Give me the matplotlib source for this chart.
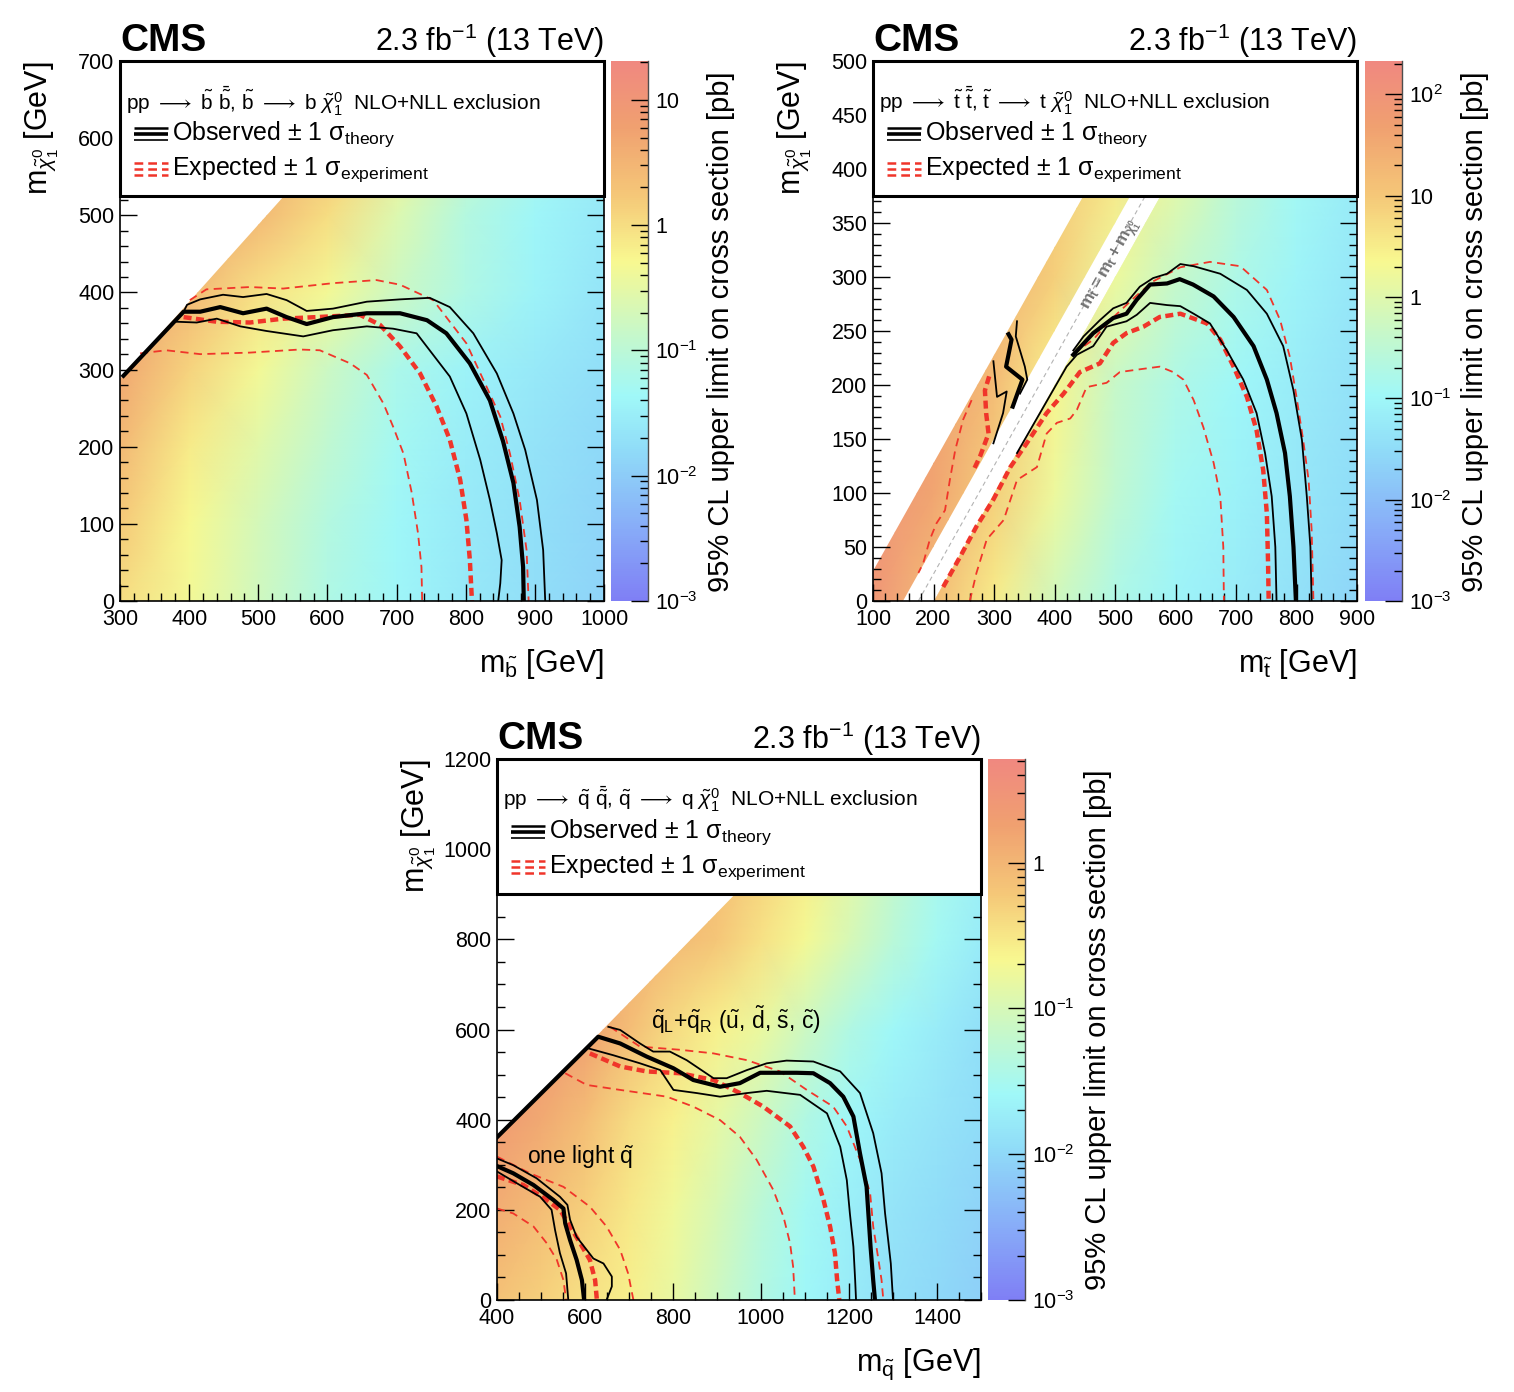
import numpy as np
import matplotlib
matplotlib.use("Agg")
import matplotlib.pyplot as plt
from matplotlib.colors import LinearSegmentedColormap, Normalize, LogNorm
from matplotlib.cm import ScalarMappable
from matplotlib.patches import Polygon, Rectangle
from matplotlib.ticker import MultipleLocator, LogLocator, FuncFormatter, NullFormatter

plt.rcParams["font.family"] = ["Liberation Sans", "DejaVu Sans"]
plt.rcParams["mathtext.fontset"] = "custom"
plt.rcParams["mathtext.rm"] = "Liberation Sans"
plt.rcParams["mathtext.sf"] = "Liberation Sans"
plt.rcParams["mathtext.it"] = "Liberation Sans:italic"
plt.rcParams["mathtext.bf"] = "Liberation Sans:bold"
plt.rcParams["mathtext.fallback"] = "stixsans"

RED = "#f0352a"
PALETTE = LinearSegmentedColormap.from_list("pale_rainbow", [
    (0.00, "#7f7ff5"), (0.14, "#88aef8"), (0.28, "#90dcf8"), (0.38, "#a0f8f8"),
    (0.50, "#c8f8c8"), (0.63, "#f8f890"), (0.75, "#f5c878"), (0.88, "#f0a070"),
    (1.00, "#f08880")])

# ---------------- sbottom: log10(limit / pb) on a coarse grid ----------------
SB_GRID_X = [300, 400, 500, 600, 700, 800, 900, 1000]
SB_GRID_Y = [0, 100, 200, 300, 400, 500, 600, 700]
SB_LOGLIM = [
    [0.00, -0.35, -0.75, -1.15, -1.40, -1.60, -1.75, -1.90],
    [0.20, -0.30, -0.70, -1.10, -1.38, -1.58, -1.73, -1.88],
    [0.45, -0.15, -0.55, -0.95, -1.30, -1.52, -1.68, -1.83],
    [0.70, 0.10, -0.35, -0.80, -1.20, -1.45, -1.60, -1.75],
    [0.80, 0.45, -0.05, -0.35, -0.80, -1.15, -1.45, -1.65],
    [0.90, 0.70, 0.45, 0.00, -0.60, -1.10, -1.40, -1.60],
    [1.00, 0.80, 0.60, 0.40, -0.20, -0.80, -1.20, -1.50],
    [1.10, 0.90, 0.70, 0.50, 0.30, -0.50, -1.00, -1.40],
]
SB_OBS_X = [305, 392, 416, 445, 478, 512, 541, 570, 608, 657, 705, 744, 772, 806, 835, 854, 869, 878, 883, 884]
SB_OBS_Y = [292, 375, 375, 381, 373, 379, 368, 359, 368, 373, 373, 364, 347, 308, 260, 207, 153, 96, 44, 0]
SB_OBS_UP_X = [392, 397, 416, 449, 478, 512, 541, 570, 608, 657, 705, 748, 777, 811, 845, 869, 886, 903, 912, 915]
SB_OBS_UP_Y = [375, 384, 391, 397, 394, 398, 390, 376, 379, 388, 391, 393, 381, 347, 295, 243, 196, 131, 66, 0]
SB_OBS_DN_X = [382, 411, 440, 474, 512, 565, 608, 657, 695, 729, 777, 801, 821, 835, 845, 852, 850, 847]
SB_OBS_DN_Y = [362, 361, 366, 356, 350, 343, 351, 356, 353, 347, 291, 243, 183, 131, 88, 53, 23, 0]
SB_EXP_X = [392, 440, 488, 536, 584, 647, 676, 705, 734, 758, 777, 792, 801, 806, 809]
SB_EXP_Y = [368, 362, 361, 366, 368, 371, 358, 330, 295, 252, 209, 157, 105, 53, 0]
SB_EXP_UP_X = [401, 425, 488, 536, 608, 671, 705, 753, 801, 830, 850, 864, 878, 888, 891]
SB_EXP_UP_Y = [390, 404, 407, 405, 412, 416, 410, 390, 334, 278, 239, 191, 131, 66, 0]
SB_EXP_DN_X = [329, 367, 416, 488, 560, 589, 633, 657, 681, 695, 710, 722, 731, 736, 737]
SB_EXP_DN_Y = [321, 325, 320, 322, 326, 325, 308, 293, 256, 226, 191, 140, 88, 44, 0]

# ---------------- stop ----------------
ST_GRID_X = [100, 200, 300, 400, 500, 600, 700, 800, 900]
ST_GRID_Y = [0, 100, 200, 300, 400, 500]
ST_LOGLIM = [
    [1.9, 1.2, 0.5, -0.2, -0.75, -1.05, -1.2, -1.4, -1.6],
    [2.0, 1.6, 0.9, 0.2, -0.45, -0.9, -1.1, -1.3, -1.5],
    [2.1, 1.7, 1.2, 0.4, -0.35, -0.75, -1.0, -1.2, -1.4],
    [2.2, 1.8, 1.4, 0.9, 0.2, -0.35, -0.75, -1.05, -1.3],
    [2.3, 1.9, 1.5, 1.0, 0.6, 0.1, -0.5, -0.9, -1.2],
    [2.3, 2.0, 1.6, 1.1, 0.8, 0.4, -0.2, -0.7, -1.1],
]
ST_OBS_X = [431, 464, 497, 519, 536, 558, 586, 607, 629, 663, 696, 729, 751, 767, 781, 789, 795, 799]
ST_OBS_Y = [228, 248, 262, 266, 279, 293, 294, 298, 293, 282, 263, 236, 205, 174, 137, 97, 50, 0]
ST_OBS_UP_X = [431, 448, 475, 497, 519, 541, 563, 586, 608, 630, 674, 718, 751, 778, 795, 809, 817, 823, 825]
ST_OBS_UP_Y = [232, 245, 260, 271, 276, 291, 299, 303, 312, 310, 303, 288, 266, 236, 195, 149, 97, 50, 0]
ST_OBS_DN_X = [338, 420, 437, 464, 486, 519, 536, 558, 586, 608, 630, 657, 685, 712, 734, 748, 759, 765, 767]
ST_OBS_DN_Y = [137, 217, 228, 236, 254, 259, 265, 276, 274, 273, 266, 257, 232, 205, 174, 137, 97, 50, 0]
ST_EXP_X = [216, 244, 271, 299, 327, 354, 387, 415, 442, 475, 497, 519, 547, 574, 608, 652, 674, 696, 718, 734, 745, 751, 753, 754]
ST_EXP_Y = [13, 41, 69, 94, 124, 146, 174, 192, 212, 220, 239, 248, 254, 263, 266, 257, 242, 217, 189, 158, 121, 81, 35, 0]
ST_EXP_UP_X = [431, 464, 492, 536, 563, 608, 657, 707, 751, 773, 789, 800, 811, 820, 825, 828]
ST_EXP_UP_Y = [229, 242, 260, 283, 296, 309, 314, 310, 288, 260, 226, 189, 149, 112, 66, 0]
ST_EXP_DN_X = [260, 271, 288, 316, 338, 371, 387, 404, 426, 437, 453, 486, 508, 547, 574, 596, 613, 630, 646, 663, 674, 679, 680]
ST_EXP_DN_Y = [0, 26, 57, 75, 112, 124, 155, 165, 169, 177, 198, 202, 212, 215, 217, 212, 205, 186, 161, 128, 97, 50, 0]
# compressed-spectrum band (left of the top-mass line)
STL_OBS_X = [324, 329, 320, 347, 331]
STL_OBS_Y = [247, 242, 217, 205, 180]
STL_OBS_UP_X = [338, 336, 351, 355, 343]
STL_OBS_UP_Y = [259, 245, 217, 205, 192]
STL_OBS_DN_X = [299, 305, 321, 315, 299]
STL_OBS_DN_Y = [222, 189, 194, 174, 146]
STL_EXP_X = [292, 285, 287, 291, 277, 266]
STL_EXP_Y = [208, 195, 174, 155, 134, 121]
STL_EXP_DN_X = [263, 249, 236, 227, 219, 205, 194, 183, 175]
STL_EXP_DN_Y = [186, 168, 140, 112, 84, 72, 57, 35, 26]

# ---------------- squark ----------------
SQ_GRID_X = [400, 500, 600, 700, 800, 900, 1000, 1100, 1200, 1300, 1400, 1500]
SQ_GRID_Y = [0, 200, 400, 600, 800, 1000, 1200]
SQ_LOGLIM = [
    [-0.15, -0.30, -0.45, -0.58, -0.82, -1.10, -1.38, -1.60, -1.75, -1.90, -2.00, -2.10],
    [0.10, -0.10, -0.30, -0.52, -0.75, -1.00, -1.30, -1.55, -1.70, -1.85, -1.95, -2.05],
    [0.35, 0.15, -0.10, -0.40, -0.60, -0.85, -1.10, -1.40, -1.60, -1.75, -1.85, -1.95],
    [0.40, 0.35, 0.25, -0.10, -0.40, -0.60, -0.80, -1.10, -1.40, -1.60, -1.75, -1.90],
    [0.45, 0.40, 0.30, 0.10, -0.05, -0.20, -0.45, -0.70, -1.00, -1.30, -1.55, -1.75],
    [0.50, 0.45, 0.40, 0.30, 0.10, -0.10, -0.30, -0.55, -0.85, -1.15, -1.45, -1.65],
    [0.50, 0.45, 0.40, 0.35, 0.20, 0.00, -0.20, -0.45, -0.75, -1.05, -1.35, -1.60],
]
SQ_OBS_X = [398, 630, 680, 740, 801, 846, 907, 952, 998, 1081, 1119, 1157, 1187, 1210, 1225, 1240, 1244, 1249, 1255, 1259]
SQ_OBS_Y = [359, 584, 569, 540, 514, 488, 473, 481, 504, 504, 503, 481, 451, 407, 325, 251, 192, 118, 44, 0]
SQ_OBS_UP_X = [653, 680, 725, 755, 793, 831, 892, 922, 968, 1013, 1058, 1119, 1180, 1225, 1255, 1274, 1282, 1289, 1295, 1300]
SQ_OBS_UP_Y = [606, 599, 569, 551, 551, 532, 492, 492, 510, 525, 531, 529, 507, 459, 370, 281, 192, 133, 81, 0]
SQ_OBS_DN_X = [608, 664, 725, 771, 801, 854, 907, 968, 1013, 1089, 1150, 1180, 1195, 1202, 1210, 1214, 1216]
SQ_OBS_DN_Y = [558, 543, 525, 510, 466, 459, 451, 459, 464, 455, 414, 340, 266, 192, 118, 44, 0]
SQ_EXP_X = [611, 680, 740, 816, 892, 952, 1005, 1066, 1096, 1119, 1142, 1157, 1168, 1173, 1178]
SQ_EXP_Y = [547, 518, 507, 503, 488, 459, 429, 385, 340, 296, 222, 163, 104, 44, 0]
SQ_EXP_UP_X = [657, 725, 816, 892, 968, 1043, 1104, 1164, 1195, 1225, 1248, 1255, 1267, 1274, 1278]
SQ_EXP_UP_Y = [606, 562, 555, 547, 532, 507, 466, 429, 385, 311, 237, 163, 89, 44, 0]
SQ_EXP_DN_X = [555, 604, 680, 786, 846, 907, 952, 990, 1028, 1051, 1066, 1073, 1077]
SQ_EXP_DN_Y = [503, 477, 466, 451, 429, 399, 362, 311, 244, 185, 126, 74, 0]
# one light squark
SQ1_OBS_X = [400, 437, 483, 528, 551, 555, 566, 581, 593, 598]
SQ1_OBS_Y = [297, 281, 255, 222, 203, 170, 133, 89, 44, 0]
SQ1_OBS_UP_X = [400, 437, 490, 543, 560, 566, 581, 604, 619, 642, 661, 661, 649]
SQ1_OBS_UP_Y = [314, 299, 270, 229, 211, 178, 140, 111, 92, 81, 52, 30, 0]
SQ1_OBS_DN_X = [400, 452, 498, 524, 532, 543, 557, 562]
SQ1_OBS_DN_Y = [285, 255, 229, 200, 155, 104, 59, 0]
SQ1_EXP_X = [400, 460, 513, 543, 566, 589, 611, 623, 627]
SQ1_EXP_Y = [274, 255, 222, 200, 163, 126, 89, 44, 0]
SQ1_EXP_UP_X = [400, 475, 551, 611, 649, 680, 698, 710]
SQ1_EXP_UP_Y = [318, 281, 251, 207, 163, 111, 59, 0]
SQ1_EXP_DN_X = [400, 437, 483, 513, 536, 551, 557]
SQ1_EXP_DN_Y = [203, 192, 163, 126, 89, 44, 0]

LEGEND_OBS = r"Observed ± 1 σ$_{\mathrm{theory}}$"
LEGEND_EXP = r"Expected ± 1 σ$_{\mathrm{experiment}}$"
ZLABEL = "95% CL upper limit on cross section [pb]"
YLABEL = r"$\mathrm{m}_{\tilde{\chi}^{0}_{1}}$ [GeV]"


def frame(ax, xlim, ylim, xmaj, xmin, ymaj, ymin):
    ax.set_xlim(xlim)
    ax.set_ylim(ylim)
    ax.xaxis.set_major_locator(MultipleLocator(xmaj))
    ax.xaxis.set_minor_locator(MultipleLocator(xmin))
    ax.yaxis.set_major_locator(MultipleLocator(ymaj))
    ax.yaxis.set_minor_locator(MultipleLocator(ymin))
    ax.tick_params(which="both", direction="in", top=True, right=True, labelsize=15.5, width=1)
    ax.tick_params(which="major", length=12)
    ax.tick_params(which="minor", length=6)
    ax.tick_params(axis="x", pad=6)
    ax.tick_params(axis="y", pad=4)
    for s in ax.spines.values():
        s.set_linewidth(1.2)
        s.set_zorder(7)


def limit_map(ax, gx, gy, loglim, vmax_log, regions):
    X, Y = np.meshgrid(gx, gy)
    for verts in regions:
        mesh = ax.pcolormesh(X, Y, np.array(loglim), shading="gouraud", cmap=PALETTE,
                             norm=Normalize(-3, vmax_log), zorder=0, rasterized=True)
        mesh.set_clip_path(Polygon(verts, closed=True, transform=ax.transData))


def curves(ax, obs, obs_up, obs_dn, exp, exp_up, exp_dn):
    for xy in (exp_up, exp_dn):
        if xy is not None:
            ax.plot(*xy, color=RED, lw=1.3, ls=(0, (4.5, 3)), zorder=3)
    if exp is not None:
        ax.plot(*exp, color=RED, lw=3.2, ls=(0, (1.8, 1.0)), zorder=3)
    for xy in (obs_up, obs_dn):
        if xy is not None:
            ax.plot(*xy, color="black", lw=1.3, zorder=4)
    if obs is not None:
        ax.plot(*obs, color="black", lw=3.0, zorder=4)


def legend_box(ax, title):
    ax.add_patch(Rectangle((0, 0.75), 1, 0.25, transform=ax.transAxes, fc="white",
                           ec="black", lw=2.2, zorder=5, clip_on=False))
    ax.text(0.012, 0.926, title, transform=ax.transAxes, fontsize=15, va="center", zorder=6)
    for dy, lw in [(0.011, 1.8), (0.0, 2.6), (-0.011, 1.2)]:
        ax.plot([0.029, 0.099], [0.865 + dy] * 2, transform=ax.transAxes, color="black",
                lw=lw, zorder=6, clip_on=False, solid_capstyle="butt")
    for dy in (0.011, 0.0, -0.011):
        ax.plot([0.029, 0.099], [0.800 + dy] * 2, transform=ax.transAxes, color=RED,
                lw=1.8, ls=(0, (3.5, 2.0)), zorder=6, clip_on=False)
    ax.text(0.107, 0.865, LEGEND_OBS, transform=ax.transAxes, fontsize=18, va="center", zorder=6)
    ax.text(0.107, 0.800, LEGEND_EXP, transform=ax.transAxes, fontsize=18, va="center", zorder=6)


def labels(ax, xlabel):
    ax.text(0, 1.018, "CMS", transform=ax.transAxes, fontsize=28, fontweight="bold",
            ha="left", va="baseline")
    ax.text(1, 1.018, r"2.3 fb$^{-1}$ (13 TeV)", transform=ax.transAxes, fontsize=22,
            ha="right", va="baseline")
    ax.text(1, -0.131, xlabel, transform=ax.transAxes, fontsize=22, ha="right", va="baseline")
    ax.text(-0.149, 1, YLABEL, transform=ax.transAxes, fontsize=22, rotation=90,
            rotation_mode="anchor", ha="right", va="baseline")


def zfmt(v, pos):
    e = int(round(np.log10(v)))
    if e == 0:
        return "1"
    if e == 1:
        return "10"
    return r"$10^{%d}$" % e


def zbar(fig, cax, vmax_log):
    sm = ScalarMappable(norm=LogNorm(1e-3, 10 ** vmax_log), cmap=PALETTE)
    cb = fig.colorbar(sm, cax=cax)
    cb.outline.set_visible(False)
    cax.axvline(1.0, color="0.3", lw=1.0, clip_on=False)
    cax.yaxis.set_major_locator(LogLocator(base=10))
    cax.yaxis.set_minor_locator(LogLocator(base=10, subs=np.arange(2, 10)))
    cax.yaxis.set_major_formatter(FuncFormatter(zfmt))
    cax.yaxis.set_minor_formatter(NullFormatter())
    cax.tick_params(which="both", direction="in", right=True, labelsize=15.5, pad=5, width=1)
    cax.tick_params(which="major", length=12)
    cax.tick_params(which="minor", length=6)
    cax.text(3.19, 0.98, ZLABEL, transform=cax.transAxes, fontsize=21, rotation=90,
             rotation_mode="anchor", ha="right", va="baseline")


def title(sq, q):
    return (r"$\mathrm{pp}\ \longrightarrow\ \tilde{\mathrm{%s}}\ \bar{\tilde{\mathrm{%s}}}{,}\ "
            r"\tilde{\mathrm{%s}}\ \longrightarrow\ \mathrm{%s}\ \tilde{\chi}^{0}_{1}$  NLO+NLL exclusion") % (sq, sq, sq, q)


W, H = 1514.0, 1392.0
fig = plt.figure(figsize=(W / 100, H / 100), dpi=100)
ax1 = fig.add_axes([120 / W, 1 - 601 / H, 484 / W, 540 / H])
cax1 = fig.add_axes([611 / W, 1 - 601 / H, 37 / W, 540 / H])
ax2 = fig.add_axes([873 / W, 1 - 601 / H, 484 / W, 540 / H])
cax2 = fig.add_axes([1365 / W, 1 - 601 / H, 37 / W, 540 / H])
ax3 = fig.add_axes([497 / W, 1 - 1300 / H, 484 / W, 541 / H])
cax3 = fig.add_axes([988 / W, 1 - 1300 / H, 37 / W, 541 / H])

# ---- sbottom panel ----
dm = 12
frame(ax1, (300, 1000), (0, 700), 100, 20, 100, 20)
limit_map(ax1, SB_GRID_X, SB_GRID_Y, SB_LOGLIM, 1.31,
          [[(300, 0), (1000, 0), (1000, 700), (700 + dm, 700), (300, 300 - dm)]])
curves(ax1, (SB_OBS_X, SB_OBS_Y), (SB_OBS_UP_X, SB_OBS_UP_Y), (SB_OBS_DN_X, SB_OBS_DN_Y),
       (SB_EXP_X, SB_EXP_Y), (SB_EXP_UP_X, SB_EXP_UP_Y), (SB_EXP_DN_X, SB_EXP_DN_Y))
legend_box(ax1, title("b", "b"))
labels(ax1, r"$\mathrm{m}_{\tilde{\mathrm{b}}}$ [GeV]")
zbar(fig, cax1, 1.31)

# ---- stop panel ----
frame(ax2, (100, 900), (0, 500), 100, 20, 50, 10)
limit_map(ax2, ST_GRID_X, ST_GRID_Y, ST_LOGLIM, 2.33,
          [[(100, 0), (150, 0), (650, 500), (572, 500), (100, 28)],
           [(200, 0), (900, 0), (900, 500), (700, 500)]])
ax2.plot([175, 675], [0, 500], color="0.7", lw=0.8, ls=(0, (4, 3)), zorder=1)
ax2.text(493, 311, r"$\mathbf{m_{\tilde{t}} = m_{t} + m_{\tilde{\chi}^{0}_{1}}}$", color="0.45",
         fontsize=12.5, rotation=45, transform_rotates_text=True, rotation_mode="anchor",
         ha="center", va="center", zorder=2)
curves(ax2, (ST_OBS_X, ST_OBS_Y), (ST_OBS_UP_X, ST_OBS_UP_Y), (ST_OBS_DN_X, ST_OBS_DN_Y),
       (ST_EXP_X, ST_EXP_Y), (ST_EXP_UP_X, ST_EXP_UP_Y), (ST_EXP_DN_X, ST_EXP_DN_Y))
curves(ax2, (STL_OBS_X, STL_OBS_Y), (STL_OBS_UP_X, STL_OBS_UP_Y), (STL_OBS_DN_X, STL_OBS_DN_Y),
       (STL_EXP_X, STL_EXP_Y), None, (STL_EXP_DN_X, STL_EXP_DN_Y))
legend_box(ax2, title("t", "t"))
labels(ax2, r"$\mathrm{m}_{\tilde{\mathrm{t}}}$ [GeV]")
zbar(fig, cax2, 2.33)

# ---- squark panel ----
dm = 40
frame(ax3, (400, 1500), (0, 1200), 200, 50, 200, 50)
limit_map(ax3, SQ_GRID_X, SQ_GRID_Y, SQ_LOGLIM, 0.71,
          [[(400, 0), (1500, 0), (1500, 1200), (1200 + dm, 1200), (400, 400 - dm)]])
curves(ax3, (SQ_OBS_X, SQ_OBS_Y), (SQ_OBS_UP_X, SQ_OBS_UP_Y), (SQ_OBS_DN_X, SQ_OBS_DN_Y),
       (SQ_EXP_X, SQ_EXP_Y), (SQ_EXP_UP_X, SQ_EXP_UP_Y), (SQ_EXP_DN_X, SQ_EXP_DN_Y))
curves(ax3, (SQ1_OBS_X, SQ1_OBS_Y), (SQ1_OBS_UP_X, SQ1_OBS_UP_Y), (SQ1_OBS_DN_X, SQ1_OBS_DN_Y),
       (SQ1_EXP_X, SQ1_EXP_Y), (SQ1_EXP_UP_X, SQ1_EXP_UP_Y), (SQ1_EXP_DN_X, SQ1_EXP_DN_Y))
ax3.text(750, 621, r"$\tilde{\mathrm{q}}_{\mathrm{L}}$+$\tilde{\mathrm{q}}_{\mathrm{R}}$ "
                   r"($\tilde{\mathrm{u}}$, $\tilde{\mathrm{d}}$, $\tilde{\mathrm{s}}$, $\tilde{\mathrm{c}}$)",
         fontsize=16.5, ha="left", va="center", zorder=6)
ax3.text(468, 317, r"one light $\tilde{\mathrm{q}}$", fontsize=16.5, ha="left", va="center", zorder=6)
legend_box(ax3, title("q", "q"))
labels(ax3, r"$\mathrm{m}_{\tilde{\mathrm{q}}}$ [GeV]")
zbar(fig, cax3, 0.71)

fig.savefig("out.png", dpi=100)
